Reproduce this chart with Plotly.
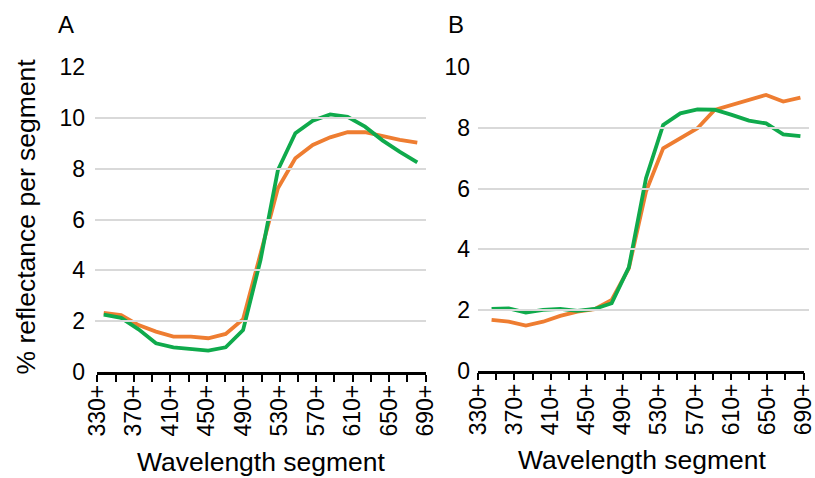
import plotly.graph_objects as go

W, H = 815, 478

wavelength = ["330+", "350+", "370+", "390+", "410+", "430+", "450+", "470+", "490+", "510+",
              "530+", "550+", "570+", "590+", "610+", "630+", "650+", "670+", "690+"]
tick_labels = ["330+", "", "370+", "", "410+", "", "450+", "", "490+", "",
               "530+", "", "570+", "", "610+", "", "650+", "", "690+"]

a_orange = [2.32, 2.23, 1.84, 1.58, 1.38, 1.38, 1.32, 1.49, 2.07, 4.6,
            7.23, 8.41, 8.94, 9.24, 9.44, 9.44, 9.29, 9.14, 9.03]
a_green = [2.25, 2.12, 1.67, 1.12, 0.96, 0.89, 0.83, 0.96, 1.64, 4.4,
           7.95, 9.40, 9.89, 10.14, 10.05, 9.66, 9.12, 8.67, 8.25]

b_orange = [1.67, 1.61, 1.48, 1.61, 1.80, 1.94, 2.02, 2.33, 3.37, 5.9,
            7.33, 7.66, 7.99, 8.59, 8.76, 8.90, 9.09, 8.87, 9.00]
b_green = [2.03, 2.05, 1.91, 2.00, 2.03, 1.97, 2.03, 2.22, 3.40, 6.34,
           8.10, 8.48, 8.61, 8.60, 8.43, 8.24, 8.15, 7.79, 7.73]

ORANGE = "#EE7D31"
GREEN = "#0FAA4C"
FONT = "Liberation Sans, Arial, sans-serif"


def px(x):
    return x / W


def py(y):
    return 1 - y / H


fig = go.Figure()
for xa, ya, o, g in [("x", "y", a_orange, a_green), ("x2", "y2", b_orange, b_green)]:
    fig.add_trace(go.Scatter(x=wavelength, y=o, mode="lines", xaxis=xa, yaxis=ya,
                             line=dict(color=ORANGE, width=3.8), showlegend=False))
    fig.add_trace(go.Scatter(x=wavelength, y=g, mode="lines", xaxis=xa, yaxis=ya,
                             line=dict(color=GREEN, width=3.8), showlegend=False))
# empty traces so the separately drawn category axes get their own subplots
for xa, ya in [("x3", "y"), ("x4", "y2")]:
    fig.add_trace(go.Scatter(x=[], y=[], xaxis=xa, yaxis=ya, mode="lines",
                             showlegend=False, hoverinfo="skip"))

data_x = dict(type="category", range=[-0.5, 18.5], visible=False, showgrid=False,
              automargin=False, fixedrange=True)
vis_x = dict(type="linear", range=[0, 18], tickmode="array", tickvals=list(range(len(wavelength))),
             ticktext=tick_labels, tickangle=-90, ticks="outside", ticklen=7, tickwidth=2,
             tickcolor="black", showline=True, linecolor="black", linewidth=2.6,
             showgrid=False, zeroline=False, automargin=False, ticklabelstandoff=-6,
             ticklabeloverflow="allow",
             tickfont=dict(size=23, color="black", family=FONT))
grid_y = dict(showgrid=True, gridcolor="#D9D9D9", gridwidth=1.5, zeroline=False,
              showline=False, ticks="", automargin=False,
              tickfont=dict(size=23, color="black", family=FONT))

fig.update_layout(
    template=go.layout.Template(),
    width=W, height=H, margin=dict(l=0, r=0, t=0, b=0, pad=0, autoexpand=False),
    paper_bgcolor="white", plot_bgcolor="rgba(0,0,0,0)",
    font=dict(family=FONT, color="black"),
    xaxis=dict(domain=[px(95), px(426)], anchor="y", **data_x),
    yaxis=dict(domain=[py(371.7), py(67.3)], range=[0, 12], dtick=2, anchor="x",
               ticklabelstandoff=9, **grid_y),
    xaxis2=dict(domain=[px(483), px(809)], anchor="y2", **data_x),
    yaxis2=dict(domain=[py(370.5), py(67.3)], range=[0, 10], dtick=2, anchor="x2",
                ticklabelstandoff=12, **grid_y),
    xaxis3=dict(domain=[px(97.3), px(425.7)], anchor="y", **vis_x),
    xaxis4=dict(domain=[px(478.3), px(803.5)], anchor="y2", **vis_x),
)

ann = [
    dict(text="A", x=px(56), y=py(9), xanchor="left", yanchor="top", font_size=24),
    dict(text="B", x=px(446), y=py(9), xanchor="left", yanchor="top", font_size=24),
    dict(text="% reflectance per segment", x=px(25), y=py(216.5), textangle=-90,
         xanchor="center", yanchor="middle", font_size=26.5),
    dict(text="Wavelength segment", x=px(261.5), y=py(462), xanchor="center",
         yanchor="middle", font_size=26.5),
    dict(text="Wavelength segment", x=px(642), y=py(460), xanchor="center",
         yanchor="middle", font_size=26.5),
]
for a in ann:
    a.update(xref="paper", yref="paper", showarrow=False)
    fs = a.pop("font_size")
    a["font"] = dict(size=fs, color="black", family=FONT)
    fig.add_annotation(**a)

fig.write_html("out.html", config={"displayModeBar": False},
               post_script="document.body.style.margin='0';")
